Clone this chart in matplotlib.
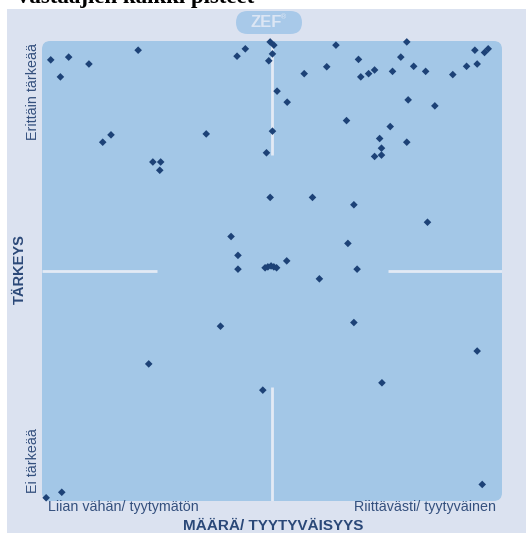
import numpy as np
import matplotlib.pyplot as plt
from matplotlib.patches import FancyBboxPatch, Rectangle

# Vastaajien pisteet (0-100 asteikolla): x = määrä/tyytyväisyys, y = tärkeys
maara = [1.9, 5.8, 10.2, 4.0, 20.9, 15.0, 13.2, 24.1, 25.8, 25.6,
         49.6, 50.4, 44.2, 42.4, 50.1, 49.3, 63.9, 68.8, 61.9, 57.0,
         69.3, 51.1, 53.3, 66.2, 35.7, 50.1, 48.8, 49.6, 58.8, 67.8,
         79.3, 78.0, 94.1, 96.2, 97.0, 71.0, 72.3, 76.2, 80.8, 83.4,
         89.3, 92.3, 94.6, 79.6, 85.4, 75.7, 73.4, 79.3, 73.8, 72.3,
         73.8, 41.1, 42.6, 42.6, 48.5, 49.1, 49.8, 50.4, 51.0, 53.2,
         38.8, 83.8, 66.5, 68.5, 60.3, 67.8, 94.6, 23.2, 48.0, 73.9,
         95.7, 0.9, 4.3]
tarkeys = [95.9, 96.5, 95.0, 92.2, 98.0, 79.6, 78.0, 73.7, 73.7, 71.9,
           99.8, 99.1, 98.3, 96.7, 97.2, 95.7, 99.1, 96.0, 94.4, 92.9,
           92.2, 89.1, 86.7, 82.7, 79.8, 80.4, 75.7, 66.0, 66.0, 64.4,
           99.8, 96.5, 98.0, 97.5, 98.3, 92.9, 93.7, 93.4, 94.5, 93.4,
           92.7, 94.5, 95.0, 87.2, 85.9, 81.4, 78.8, 78.0, 76.7, 74.9,
           75.2, 57.5, 53.4, 50.4, 50.7, 50.9, 51.1, 50.9, 50.7, 52.2,
           38.0, 60.6, 56.0, 50.4, 48.3, 38.8, 32.6, 29.8, 24.1, 25.7,
           3.6, 0.7, 1.9]

paneeli = '#dbe2f0'
alue = '#a3c7e7'
piste = '#1d4277'
teksti = '#34507e'
teksti_b = '#2a4878'
viiva = '#e3eaf5'

W, H = 530, 533
fig = plt.figure(figsize=(W / 100, H / 100), dpi=100)
fig.patch.set_facecolor('white')

# taustapaneeli
fig.patches.append(Rectangle((7 / W, 0), 519 / W, 524 / H, transform=fig.transFigure,
                             facecolor=paneeli, edgecolor='none', zorder=-2))

# otsikko (ylälaidasta leikattu)
fig.text(15 / W, 1 - 3 / H, 'Vastaajien kaikki pisteet', fontsize=16.5,
         family='Liberation Serif', weight='bold', va='baseline', ha='left')

# ZEF-logo
fig.patches.append(FancyBboxPatch((236 / W, 1 - 34 / H), 66 / W, 23 / H,
                                  boxstyle='round,pad=0,rounding_size=0.022',
                                  transform=fig.transFigure, facecolor='#a8c9e9',
                                  edgecolor='none', zorder=-1))
fig.text(266 / W, 1 - 22.5 / H, 'ZEF', fontsize=12, weight='bold', color='#dce6f4',
         ha='center', va='center', family='Liberation Sans')
fig.text(284 / W, 1 - 17 / H, '®', fontsize=5, color='#dce6f4',
         ha='center', va='center')

ax = fig.add_axes([42 / W, 32 / H, 460 / W, 460 / H])
ax.set_zorder(2)
ax.set_xlim(0, 100)
ax.set_ylim(0, 100)
ax.set_facecolor('none')
for s in ax.spines.values():
    s.set_visible(False)
ax.set_xticks([])
ax.set_yticks([])

ax.add_patch(FancyBboxPatch((0, 0), 100, 100, boxstyle='round,pad=0,rounding_size=1.8',
                            facecolor=alue, edgecolor='none', zorder=0))

# keskiviivat
lw = 2
ax.plot([50, 50], [75.2, 100], color=viiva, lw=lw, zorder=1, solid_capstyle='butt')
ax.plot([50, 50], [0, 24.8], color=viiva, lw=lw, zorder=1, solid_capstyle='butt')
ax.plot([0, 25], [50, 50], color=viiva, lw=lw, zorder=1, solid_capstyle='butt')
ax.plot([75.2, 100], [50, 50], color=viiva, lw=lw, zorder=1, solid_capstyle='butt')

ax.scatter(maara, tarkeys, marker='D', s=15, color=piste, edgecolors='none',
           zorder=3, clip_on=False)

# akselitekstit
fig.text(33 / W, 1 - 92 / H, 'Erittäin tärkeää', rotation=90, fontsize=10.3,
         color=teksti, ha='center', va='center', family='Liberation Sans')
fig.text(33 / W, 1 - 461 / H, 'Ei tärkeää', rotation=90, fontsize=10.3,
         color=teksti, ha='center', va='center', family='Liberation Sans')
fig.text(20 / W, 1 - 269 / H, 'TÄRKEYS', rotation=90, fontsize=10.5, weight='bold',
         color=teksti_b, ha='center', va='center', family='Liberation Sans')
fig.text(48 / W, 1 - 507 / H, 'Liian vähän/ tyytymätön', fontsize=10.3,
         color=teksti, ha='left', va='center', family='Liberation Sans')
fig.text(496 / W, 1 - 507 / H, 'Riittävästi/ tyytyväinen', fontsize=10.3,
         color=teksti, ha='right', va='center', family='Liberation Sans')
fig.text(273 / W, 1 - 526 / H, 'MÄÄRÄ/ TYYTYVÄISYYS', fontsize=11, weight='bold',
         color=teksti_b, ha='center', va='center', family='Liberation Sans')

fig.savefig('out.png', dpi=100)
